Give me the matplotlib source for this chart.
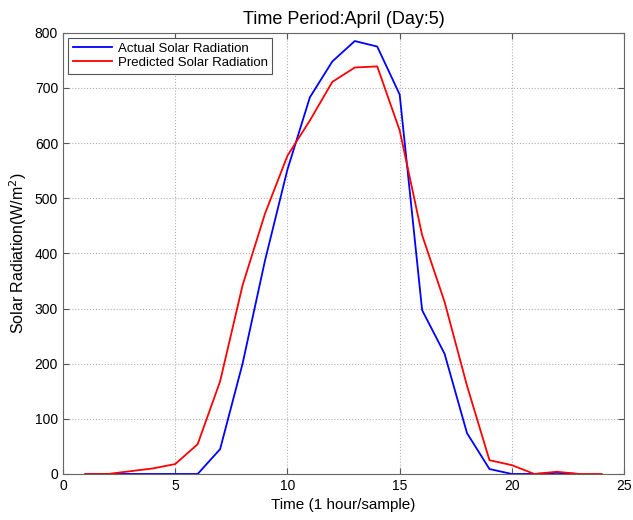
import matplotlib
matplotlib.use("Agg")
import matplotlib.pyplot as plt

plt.rcParams['font.family'] = ['Liberation Sans', 'DejaVu Sans']

hours_actual = [1, 2, 3, 4, 5, 6, 7, 8, 9, 10, 11, 12, 13, 14, 15, 16, 17, 18, 19, 20, 21, 22, 23]
actual = [0, 0, 0, 0, 0, 0, 45, 200, 387, 552, 683, 748, 785, 775, 688, 297, 218, 74, 9, 0, 0, 2, 0]

hours_pred = [1, 2, 3, 4, 5, 6, 7, 8, 9, 10, 11, 12, 13, 14, 15, 16, 17, 18, 19, 20, 21, 22, 23, 24]
predicted = [0, 0, 5, 10, 18, 54, 168, 342, 472, 577, 641, 711, 737, 739, 623, 433, 312, 160, 25, 16, 0, 4, 0, 0]

fig = plt.figure(figsize=(6.33, 5.2), dpi=100)
ax = fig.add_axes([0.0995, 0.0885, 0.8865, 0.8485])

ax.plot(hours_actual, actual, color='#0000ff', lw=1.3, label='Actual Solar Radiation')
ax.plot(hours_pred, predicted, color='#ff0000', lw=1.3, label='Predicted Solar Radiation')

ax.set_xlim(0, 25)
ax.set_ylim(0, 800)
ax.set_xticks(range(0, 26, 5))
ax.set_yticks(range(0, 801, 100))
ax.grid(True, linestyle=':', color='#b0b0b0', lw=0.8)
ax.tick_params(direction='in', top=True, right=True, labelsize=10, length=4, color='#555555')
for s in ax.spines.values():
    s.set_color('#666666')

ax.set_title('Time Period:April (Day:5)', fontsize=13)
ax.set_xlabel('Time (1 hour/sample)', fontsize=11)
ax.set_ylabel('Solar Radiation(W/m$^2$)', fontsize=11.5)

leg = ax.legend(loc='upper left', fontsize=9.5, fancybox=False, framealpha=1,
                edgecolor='#555555', borderaxespad=0.4, handlelength=3.0,
                handletextpad=0.4, borderpad=0.35, labelspacing=0.15)
leg.get_frame().set_linewidth(0.8)

plt.savefig('out.png', dpi=100)
